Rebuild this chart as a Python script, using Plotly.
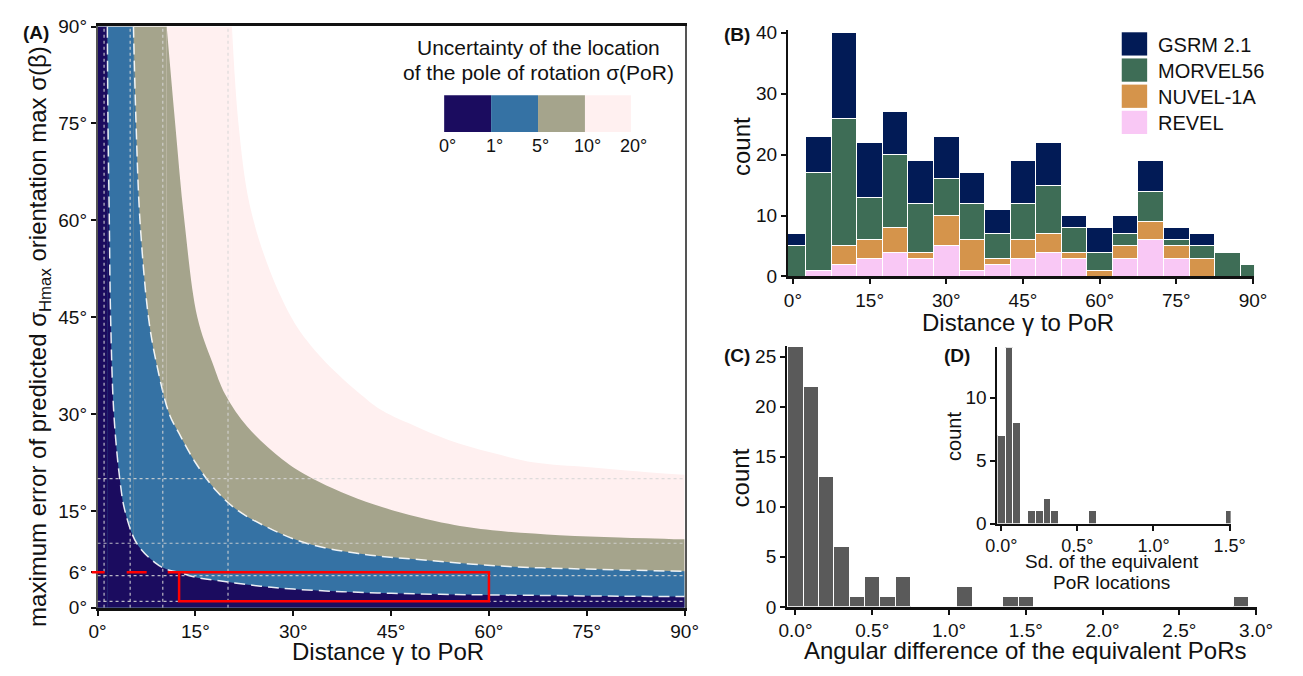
import plotly.graph_objects as go

W, H = 1303, 676
FONT = "Liberation Sans, Arial, Helvetica, sans-serif"


def px(x):
    return x / W


def py(y):
    return 1 - y / H


# ---------------- data ----------------
# Panel A: upper edge of each sigma(PoR) band (distance gamma -> max sigma(beta)).
# Left of the first gamma value each band fills the whole 0-90° height.
gamma_1 = [1.5, 1.6, 1.8, 2.0, 2.5, 3.4, 4.2, 6.0, 8.8, 10.5, 12.5, 15, 20, 25, 30, 37.5, 45, 52.5, 60, 70, 80, 90]
sigma_1 = [90, 75, 60, 45, 30, 20, 15, 10, 7, 6, 5.5, 4.75, 4.0, 3.35, 2.9, 2.5, 2.25, 2.1, 2.0, 1.9, 1.8, 1.75]
gamma_5 = [5.5, 5.9, 6.5, 7.8, 9.0, 11, 12.5, 15, 18.3, 21.6, 27, 32, 40, 50, 63, 75, 90]
sigma_5 = [90, 75, 60, 45, 38, 30, 27, 22.5, 18, 15, 12, 10, 8.4, 7.4, 6.4, 6.0, 5.65]
gamma_10 = [10.6, 11.9, 13.3, 15.3, 17.6, 19.6, 23, 28.3, 33, 42.4, 53.8, 60.5, 70.8, 80, 90]
sigma_10 = [90, 75, 60, 45, 38, 33, 28, 23, 20, 16, 13, 12, 11.25, 10.9, 10.6]
gamma_20 = [20.6, 21.6, 23.3, 26.3, 29.7, 32, 35, 40.4, 43.7, 49, 53.8, 60.5, 67, 75, 82, 90]
sigma_20 = [90, 75, 62.5, 52.5, 45, 41.5, 38, 33, 30.5, 28, 26, 24, 22.5, 21.8, 21.2, 20.6]
por_labels = ["0°", "1°", "5°", "10°", "20°"]
por_colors = ["#1b0c5f", "#3572a4", "#a5a48c", "#fff0f0"]
ref_lines = [1, 5, 10, 20]          # dotted reference lines
box_gamma = [12.5, 60]              # red box
box_sigma = [1, 5.5]
a_xticks = [0, 15, 30, 45, 60, 75, 90]
a_yticks = [0, 5.5, 15, 30, 45, 60, 75, 90]
a_ytext = ["0°", "6°", "15°", "30°", "45°", "60°", "75°", "90°"]

# Panel B: stacked histogram of distance to PoR (bin centres, 5° wide)
b_bins = [0, 5, 10, 15, 20, 25, 30, 35, 40, 45, 50, 55, 60, 65, 70, 75, 80, 85, 90]
revel = [0, 1, 2, 3, 4, 3, 5, 1, 2, 3, 4, 3, 0, 3, 6, 3, 0, 0, 0]
nuvel = [0, 0, 3, 3, 4, 1, 5, 5, 1, 3, 3, 1, 1, 2, 3, 2, 3, 0, 0]
morvel = [5, 16, 21, 7, 12, 8, 6, 6, 4, 6, 8, 4, 3, 2, 5, 1, 2, 4, 2]
gsrm = [2, 6, 14, 9, 7, 7, 7, 5, 4, 7, 7, 2, 4, 3, 5, 2, 2, 0, 0]
models = ["GSRM 2.1", "MORVEL56", "NUVEL-1A", "REVEL"]
model_colors = ["#021b56", "#3e6d56", "#d5944b", "#f9c8f5"]

# Panel C: angular difference of equivalent PoRs (0.1° bins)
c_bins = [0.0, 0.1, 0.2, 0.3, 0.4, 0.5, 0.6, 0.7, 1.1, 1.4, 1.5, 2.9]
c_counts = [26, 22, 13, 6, 1, 3, 1, 3, 2, 1, 1, 1]

# Panel D: sd of equivalent PoR locations (0.05° bins)
d_bins = [0.0, 0.05, 0.1, 0.2, 0.25, 0.3, 0.35, 0.6, 1.5]
d_counts = [7, 14, 8, 1, 1, 2, 1, 1, 1]

# ---------------- layout geometry (pixels) ----------------
A_X0, A_X1 = 87.5, 688.0
A_RANGE = [0, 90.01]


def a_paper_x(g):
    return px(A_X0 + (g - A_RANGE[0]) / (A_RANGE[1] - A_RANGE[0]) * (A_X1 - A_X0))


# ---------------- figure ----------------
fig = go.Figure()
shapes = []

bands = [(gamma_20, sigma_20, por_colors[3]), (gamma_10, sigma_10, por_colors[2]),
         (gamma_5, sigma_5, por_colors[1]), (gamma_1, sigma_1, por_colors[0])]
for g, s, col in bands:
    # full-height part of the band left of where its edge reaches the top
    shapes.append(dict(type="rect", xref="x", yref="y", x0=0, x1=g[0], y0=0, y1=s[0],
                       layer="below", line=dict(width=0), fillcolor=col))
    fig.add_trace(go.Scatter(x=g, y=s, mode="lines", fill="tozeroy", fillcolor=col,
                             line=dict(width=0, color=col, shape="spline", smoothing=1.0),
                             xaxis="x", yaxis="y", hoverinfo="skip", showlegend=False))
for g, s in [(gamma_1, sigma_1), (gamma_5, sigma_5)]:
    fig.add_trace(go.Scatter(x=g, y=s, mode="lines",
                             line=dict(width=1.5, color="rgba(255,255,255,0.9)", dash="11px,6px",
                                       shape="spline", smoothing=1.0),
                             xaxis="x", yaxis="y", hoverinfo="skip", showlegend=False))

stack = [(revel, model_colors[3]), (nuvel, model_colors[2]), (morvel, model_colors[1]), (gsrm, model_colors[0])]
for vals, col in stack:
    fig.add_trace(go.Bar(x=b_bins, y=vals, width=5, marker=dict(color=col, line=dict(color="white", width=1)),
                         xaxis="x2", yaxis="y2", showlegend=False))

fig.add_trace(go.Bar(x=c_bins, y=c_counts, width=0.1,
                     marker=dict(color="#5a5a5a", line=dict(color="white", width=1)),
                     xaxis="x3", yaxis="y3", showlegend=False))
fig.add_trace(go.Bar(x=d_bins, y=d_counts, width=0.05,
                     marker=dict(color="#5a5a5a", line=dict(color="white", width=1)),
                     xaxis="x4", yaxis="y4", showlegend=False))

# dotted reference lines in panel A
for v in ref_lines:
    shapes.append(dict(type="line", xref="x", yref="y", x0=v, x1=v, y0=0, y1=90,
                       line=dict(color="rgba(215,215,215,0.85)", width=1.2, dash="dot")))
    shapes.append(dict(type="line", xref="x", yref="y", x0=0, x1=90, y0=v, y1=v,
                       line=dict(color="rgba(215,215,215,0.85)", width=1.2, dash="dot")))
# red box and dashed guide (guide starts just left of the axis, over the 6° tick)
shapes.append(dict(type="rect", xref="x", yref="y", x0=box_gamma[0], x1=box_gamma[1],
                   y0=box_sigma[0], y1=box_sigma[1], line=dict(color="#ff0000", width=2.5)))
shapes.append(dict(type="line", xref="paper", yref="y", x0=px(81.5), x1=a_paper_x(box_gamma[0]),
                   y0=box_sigma[1], y1=box_sigma[1],
                   line=dict(color="#ff0000", width=2.5, dash="13px,22px,20px,21px,14px")))

# panel A colour key
key_x = [442, 490, 538, 586, 633]
for i in range(4):
    shapes.append(dict(type="rect", xref="paper", yref="paper", x0=px(key_x[i]), x1=px(key_x[i + 1]),
                       y0=py(126), y1=py(88), line=dict(width=0), fillcolor=por_colors[i]))
# panel B legend swatches
leg_y = [(23, 47), (50, 74), (77, 101), (104, 128)]
for (y0, y1), col in zip(leg_y, model_colors):
    shapes.append(dict(type="rect", xref="paper", yref="paper", x0=px(1135), x1=px(1161),
                       y0=py(y1), y1=py(y0), line=dict(width=0), fillcolor=col))

ann = []


def text(x, y, t, size, bold=False, angle=0, xanchor="center", color="#111"):
    ann.append(dict(x=px(x), y=py(y), xref="paper", yref="paper", text=("<b>%s</b>" % t) if bold else t,
                    showarrow=False, textangle=angle, xanchor=xanchor, yanchor="middle",
                    font=dict(family=FONT, size=size, color=color)))


text(25, 23, "(A)", 19, bold=True)
text(741, 25, "(B)", 19, bold=True)
text(741, 357, "(C)", 19, bold=True)
text(966, 357, "(D)", 19, bold=True)

text(538, 39, "Uncertainty of the location", 21)
text(538, 65, "of the pole of rotation σ(PoR)", 21)
for xx, lab in zip(key_x, por_labels):
    text(xx + 3, 140, lab, 18)

text(385, 662, "Distance γ to PoR", 24)
text(28, 337, "maximum error of predicted σ<sub>Hmax</sub> orientation max σ(β)", 24, angle=-90)
text(1029, 323, "Distance γ to PoR", 24)
text(746, 141, "count", 24, angle=-90)
text(1037, 661, "Angular difference of the equivalent PoRs", 24)
text(746, 483, "count", 24, angle=-90)
text(964, 440, "count", 20, angle=-90)
text(1125, 569, "Sd. of the equivalent", 19)
text(1125, 591, "PoR locations", 19)
for (y0, y1), name in zip(leg_y, models):
    text(1170, (y0 + y1) / 2 + 1, name, 20, xanchor="left")

tickfont = dict(family=FONT, size=19, color="#111")
common = dict(showgrid=False, zeroline=False, ticks="outside", ticklen=5, tickwidth=1.5,
              tickcolor="#111", tickfont=tickfont, showline=True, linecolor="#111")

fig.update_layout(
    width=W, height=H, margin=dict(l=0, r=0, t=0, b=0),
    paper_bgcolor="white", plot_bgcolor="rgba(0,0,0,0)",
    barmode="stack", showlegend=False,
    font=dict(family=FONT, color="#111"),
    shapes=shapes, annotations=ann,
    xaxis=dict(domain=[px(A_X0), px(A_X1)], range=A_RANGE, anchor="y",
               tickvals=a_xticks, ticktext=["%d°" % v for v in a_xticks],
               linewidth=2.5, mirror=True, **common),
    yaxis=dict(domain=[py(617), py(17)], range=[0, 90.01], anchor="x",
               tickvals=a_yticks, ticktext=a_ytext, linewidth=1.5, mirror=True,
               **{k: v for k, v in common.items() if k != "linecolor"}, linecolor="#555"),
    xaxis2=dict(domain=[px(793.5), px(1270.3)], range=[-1, 90.2], anchor="y2",
                tickvals=a_xticks, ticktext=["%d°" % v for v in a_xticks], linewidth=2.5, **common),
    yaxis2=dict(domain=[py(275), py(20.3)], range=[0, 40.5], anchor="x2",
                tickvals=[0, 10, 20, 30, 40], linewidth=2, **common),
    xaxis3=dict(domain=[px(792.7), px(1272.9)], range=[-0.055, 3.003], anchor="y3",
                tickvals=[0, 0.5, 1, 1.5, 2, 2.5, 3],
                ticktext=["0.0°", "0.5°", "1.0°", "1.5°", "2.0°", "2.5°", "3.0°"], linewidth=2.5, **common),
    yaxis3=dict(domain=[py(616), py(346.9)], range=[0, 26.05], anchor="x3",
                tickvals=[0, 5, 10, 15, 20, 25], linewidth=2, **common),
    xaxis4=dict(domain=[px(1007.9), px(1246.4)], range=[-0.025, 1.507], anchor="y4",
                tickvals=[0, 0.5, 1, 1.5], ticktext=["0.0°", "0.5°", "1.0°", "1.5°"], linewidth=2,
                **{k: v for k, v in common.items() if k != "tickfont"}, tickfont=dict(family=FONT, size=18, color="#111")),
    yaxis4=dict(domain=[py(530), py(348)], range=[0, 14], anchor="x4",
                tickvals=[0, 5, 10], linewidth=2, **common),
)

fig.write_html("out.html")
